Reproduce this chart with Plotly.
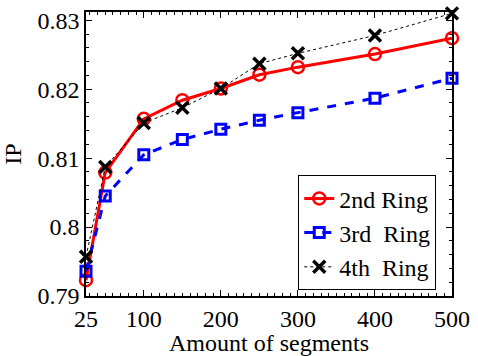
import plotly.graph_objects as go

segments = [25, 50, 100, 150, 200, 250, 300, 400, 500]
ring2 = [0.7923, 0.8079, 0.8157, 0.8184, 0.8201, 0.8221, 0.8232, 0.8251, 0.8274]
ring3 = [0.7936, 0.8045, 0.8105, 0.8127, 0.8142, 0.8155, 0.8166, 0.8187, 0.8216]
ring4 = [0.7957, 0.8087, 0.8151, 0.8173, 0.8201, 0.8237, 0.8252, 0.8278, 0.8310]
x_ticks = [25, 100, 200, 300, 400, 500]
y_ticks = [0.79, 0.80, 0.81, 0.82, 0.83]
y_tick_text = ["0.79", "0.8", "0.81", "0.82", "0.83"]

font = "Liberation Serif"
x_range = [25, 500]
y_range = [0.79, 0.8312]

fig = go.Figure()
fig.add_trace(go.Scatter(
    x=segments, y=ring2, name="2nd Ring", mode="lines+markers", cliponaxis=False,
    line=dict(color="#ff0000", width=3),
    marker=dict(symbol="circle-open", size=12, color="#ff0000", line=dict(width=2.5, color="#ff0000")),
))
fig.add_trace(go.Scatter(
    x=segments, y=ring3, name="3rd\u00a0 Ring", mode="lines+markers", cliponaxis=False,
    line=dict(color="#0000ff", width=3, dash="dash"),
    marker=dict(symbol="square-open", size=10, color="#0000ff", line=dict(width=3, color="#0000ff")),
))
fig.add_trace(go.Scatter(
    x=segments, y=ring4, name="4th\u00a0 Ring", mode="lines+markers", cliponaxis=False,
    line=dict(color="#000000", width=1, dash="dot"),
    marker=dict(symbol="x-thin-open", size=12, color="#000000", line=dict(width=3.5, color="#000000")),
))

axis_common = dict(
    showline=True, linecolor="black", linewidth=1.5, mirror="ticks",
    ticks="inside", ticklen=6, tickcolor="black", tickwidth=1,
    showgrid=False, zeroline=False,
    tickfont=dict(family=font, size=24, color="black"),
)

fig.update_layout(
    xaxis=dict(
        range=x_range, tickmode="array", tickvals=x_ticks,
        title=dict(text="Amount of segments", font=dict(family=font, size=24, color="black"), standoff=0),
        minor=dict(ticks="inside", ticklen=3, tickcolor="black", dtick=10, tick0=0, showgrid=False),
        **axis_common,
    ),
    yaxis=dict(
        range=y_range, tickmode="array", tickvals=y_ticks, ticktext=y_tick_text,
        title=dict(text="IP", font=dict(family=font, size=24, color="black"), standoff=10),
        minor=dict(ticks="inside", ticklen=3, tickcolor="black", dtick=0.002, tick0=0.79, showgrid=False),
        **axis_common,
    ),
)

fig.update_layout(
    width=478, height=356,
    margin=dict(l=86, r=21, t=8, b=53),
    plot_bgcolor="white", paper_bgcolor="white",
    font=dict(family=font, color="black"),
    showlegend=True,
    legend=dict(
        x=0.957, y=0.02, xanchor="right", yanchor="bottom",
        bgcolor="white", bordercolor="black", borderwidth=1,
        font=dict(family=font, size=24, color="black"),
        tracegroupgap=0, itemwidth=30,
    ),
)

# remove the page's default 8px body margin so the figure sits at the window's corner
fig.write_html("out.html", config={"displayModeBar": False},
               post_script="document.body.style.margin='0px';")
